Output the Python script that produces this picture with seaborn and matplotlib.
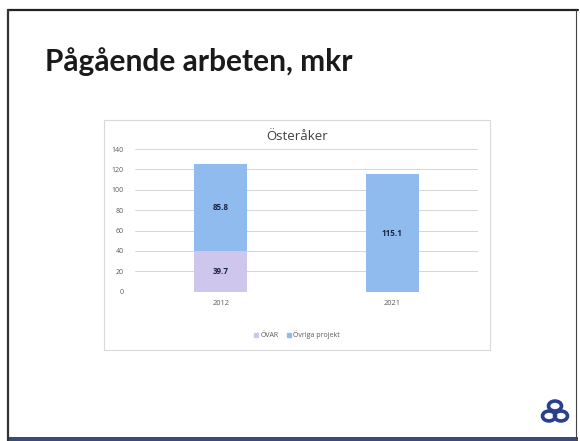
import matplotlib
matplotlib.use("Agg")
import matplotlib.pyplot as plt
import matplotlib.patches as mpatches
import seaborn as sns
import pandas as pd
import numpy as np

# ---- data ----
years = ["2012", "2021"]
ovar = [39.7, 0.0]
ovriga = [85.8, 115.1]
series_names = ["ÖVAR", "Övriga projekt"]
chart_title = "Österåker"
slide_title = "Pågående arbeten, mkr"
yticks = [0, 20, 40, 60, 80, 100, 120, 140]

col_ovar = "#CFC6EE"
col_ovriga = "#90BBEE"

sns.set_theme(style="white")
plt.rcParams['font.family'] = ['Open Sans', 'DejaVu Sans']

W, H = 580, 441
fig = plt.figure(figsize=(W / 100, H / 100), dpi=100)
fig.patch.set_facecolor("white")

def fx(px):
    return px / W

def fy(py):
    return 1 - py / H

# slide frame
fig.add_artist(plt.Line2D([fx(8), fx(578)], [fy(10), fy(10)], color="#222222", lw=1.6))
fig.add_artist(plt.Line2D([fx(8), fx(8)], [fy(10), fy(441)], color="#333333", lw=1.6))
fig.add_artist(plt.Line2D([fx(576), fx(576)], [fy(10), fy(441)], color="#444444", lw=0.8))
fig.add_artist(mpatches.Rectangle((fx(8), 0), fx(570), 4 / H, transform=fig.transFigure,
                                  facecolor="#3A4A7A", edgecolor="none"))

# slide title
fig.text(fx(45), fy(62), slide_title, fontsize=21.5, fontweight="bold", color="#1a1a1a",
         family=["Lato", "DejaVu Sans"], va="center", ha="left")

# chart box
box = mpatches.Rectangle((fx(104), fy(350)), fx(490 - 104), (350 - 120) / H,
                         transform=fig.transFigure, facecolor="white",
                         edgecolor="#D9D9D9", lw=0.8, zorder=-5)
fig.add_artist(box)
fig.text(fx(297), fy(137), chart_title, fontsize=9.5, color="#404040", ha="center", va="center")

# axes
ax_left, ax_right = 135, 478
ax_top, ax_bottom = 149, 291.7
ax = fig.add_axes([fx(ax_left), fy(ax_bottom), fx(ax_right - ax_left), (ax_bottom - ax_top) / H])
ax.set_zorder(5)
ax.set_facecolor("none")
ax.patch.set_alpha(0)

totals = [a + b for a, b in zip(ovar, ovriga)]
df_tot = pd.DataFrame({"year": years, "value": totals})
df_ovar = pd.DataFrame({"year": years, "value": ovar})

sns.barplot(data=df_tot, x="year", y="value", color=col_ovriga, width=0.31,
            saturation=1, ax=ax, zorder=3, linewidth=0)
sns.barplot(data=df_ovar, x="year", y="value", color=col_ovar, width=0.31,
            saturation=1, ax=ax, zorder=3, linewidth=0)

# labels
lab_kw = dict(fontsize=5.8, fontweight="bold", color="#1A2545", ha="center", va="center", zorder=5)
for i, (a, b) in enumerate(zip(ovar, ovriga)):
    if a > 0:
        ax.text(i, a / 2, f"{a:.1f}", **lab_kw)
    if b > 0:
        ax.text(i, a + b / 2, f"{b:.1f}", **lab_kw)

ax.set_ylim(0, 140)
ax.set_xlim(-0.5, 1.5)
ax.set_yticks(yticks)
ax.set_yticklabels([str(t) for t in yticks], fontsize=5, color="#595959")
ax.tick_params(axis="x", labelsize=5.3, colors="#595959", length=0, pad=6)
ax.tick_params(axis="y", length=0, pad=8)
ax.yaxis.grid(True, color="#D0D0D0", lw=0.6, zorder=0)
ax.set_axisbelow(True)
for s in ax.spines.values():
    s.set_visible(False)
ax.set_xlabel("")
ax.set_ylabel("")

# legend
handles = [mpatches.Patch(color=col_ovar, label=series_names[0]),
           mpatches.Patch(color=col_ovriga, label=series_names[1])]
fig.legend(handles=handles, loc="center", bbox_to_anchor=(fx(297), fy(335)), ncol=2,
           frameon=False, fontsize=5, handlelength=0.6, handleheight=0.6,
           handletextpad=0.3, columnspacing=1.2, labelcolor="#595959")

# logo (three interlocking rings)
lx, ly = 555, 412
for dx, dy in [(0, -6), (-6, 4), (6, 4)]:
    c = mpatches.Circle((fx(lx + dx), fy(ly + dy)), 6.5 / W, transform=fig.transFigure,
                        facecolor="none", edgecolor="#2B3F8F", lw=2.6)
    fig.add_artist(c)

fig.savefig("out.png", dpi=100)
